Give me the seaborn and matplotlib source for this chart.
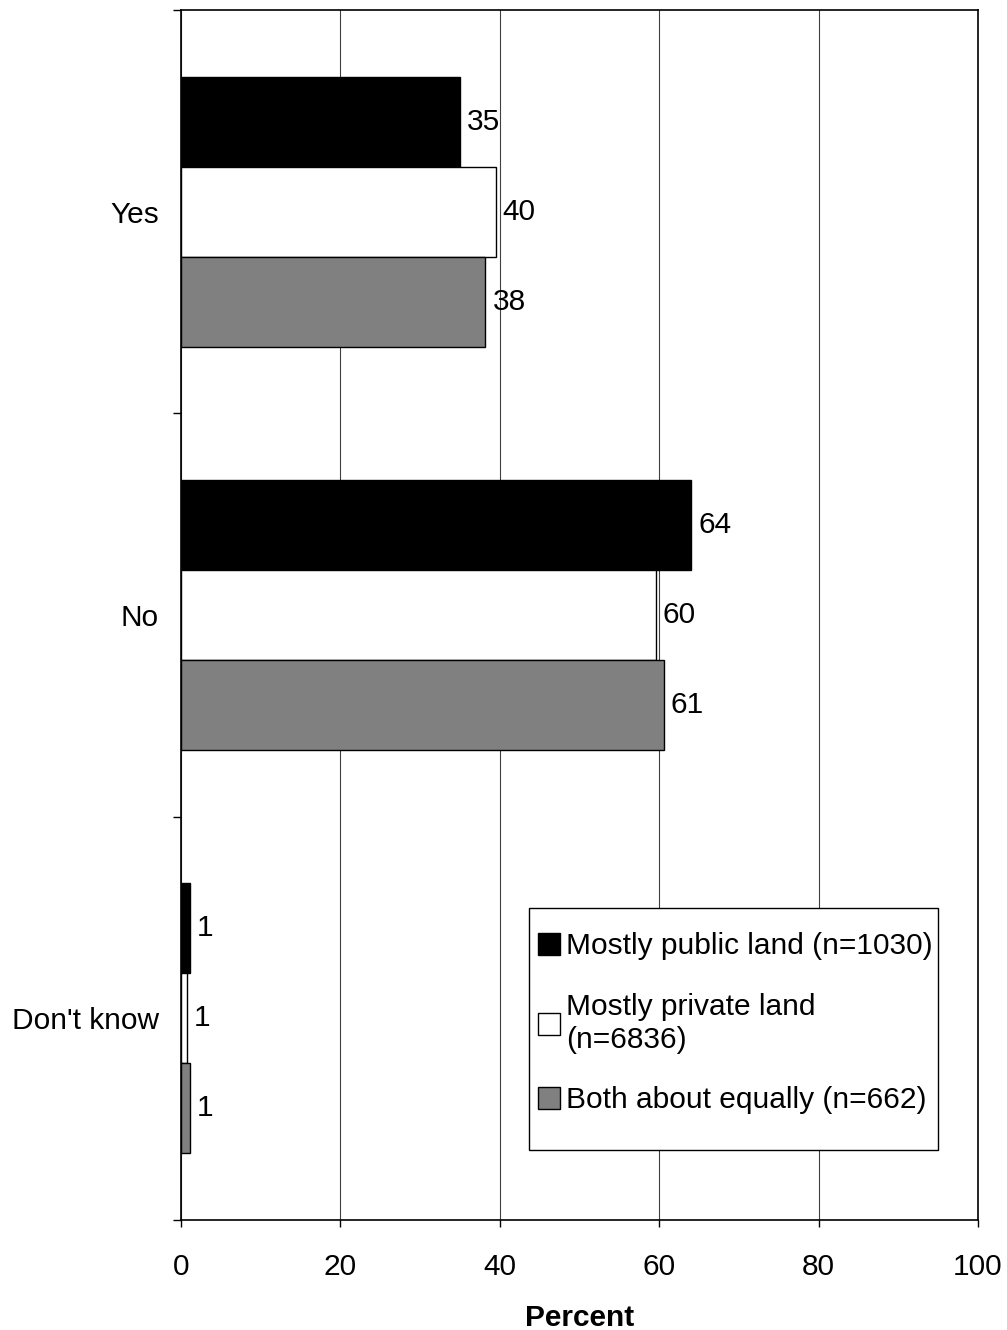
import numpy as np
import pandas as pd
import matplotlib
matplotlib.use("Agg")
import matplotlib.pyplot as plt
import seaborn as sns
from matplotlib.ticker import FixedLocator
from matplotlib.patches import Rectangle

sns.set_style("white")
plt.rcParams['font.family'] = ['Liberation Sans', 'DejaVu Sans']
plt.rcParams['text.color'] = 'black'
plt.rcParams['xtick.color'] = 'black'
plt.rcParams['ytick.color'] = 'black'
plt.rcParams['axes.labelcolor'] = 'black'

# data
answers = ["Yes", "No", "Don't know"]
groups = ["Mostly public land (n=1030)",
          "Mostly private land\n(n=6836)",
          "Both about equally (n=662)"]
public_land = [35.0, 64.0, 1.1]
private_land = [39.5, 59.6, 0.75]
both_equal = [38.2, 60.6, 1.1]
public_lbl = ["35", "64", "1"]
private_lbl = ["40", "60", "1"]
both_lbl = ["38", "61", "1"]

df = pd.DataFrame({
    "answer": answers * 3,
    "group": [groups[0]] * 3 + [groups[1]] * 3 + [groups[2]] * 3,
    "pct": public_land + private_land + both_equal,
})

fs = 21.5

fig = plt.figure(figsize=(10.07, 13.3), dpi=100)
ax = fig.add_axes([0.1797, 0.0827, 0.7915, 0.9098])
ax.set_axisbelow(True)
ax.grid(axis='x', color='#404040', linewidth=0.8)

colors = ["black", "white", "#808080"]
sns.barplot(data=df, x="pct", y="answer", hue="group", order=answers,
            hue_order=groups, palette=colors, orient='h', width=0.67,
            edgecolor='black', linewidth=1.0, ax=ax, legend=True)

for cont, lbls in zip(ax.containers, [public_lbl, private_lbl, both_lbl]):
    ax.bar_label(cont, labels=lbls, padding=5, fontsize=fs, color='black')

ax.set_xlim(0, 100)
ax.set_xticks([0, 20, 40, 60, 80, 100])
ax.set_ylim(2.5, -0.5)
ax.yaxis.set_minor_locator(FixedLocator([-0.5, 0.5, 1.5, 2.5]))
ax.tick_params(axis='y', which='major', length=0, pad=16, labelsize=fs)
ax.tick_params(axis='y', which='minor', length=6, width=1, direction='out', left=True)
ax.tick_params(axis='x', which='major', length=5, width=1, direction='out', bottom=True,
               pad=19, labelsize=fs)
ax.set_xlabel("Percent", fontsize=fs, fontweight='bold', labelpad=16)
ax.set_ylabel("")

for s in ax.spines.values():
    s.set_visible(True)
    s.set_color('black')
    s.set_linewidth(1.2)

# legend box (Excel style, fixed size)
ax.add_patch(Rectangle((0.4366, 0.0579), 0.5134, 0.2, transform=ax.transAxes,
                       facecolor='white', edgecolor='black', linewidth=1.0,
                       zorder=5, clip_on=False))
leg = ax.legend(loc='center left', bbox_to_anchor=(0.4366, 0.1625), fontsize=fs,
                frameon=False, handlelength=0.75, handleheight=0.75,
                handletextpad=0.2, labelspacing=1.1, borderpad=0.3,
                borderaxespad=0)
leg.set_zorder(6)
for h in leg.legend_handles:
    h.set_edgecolor('black')
    h.set_linewidth(1.0)

fig.savefig("out.png", dpi=100)
